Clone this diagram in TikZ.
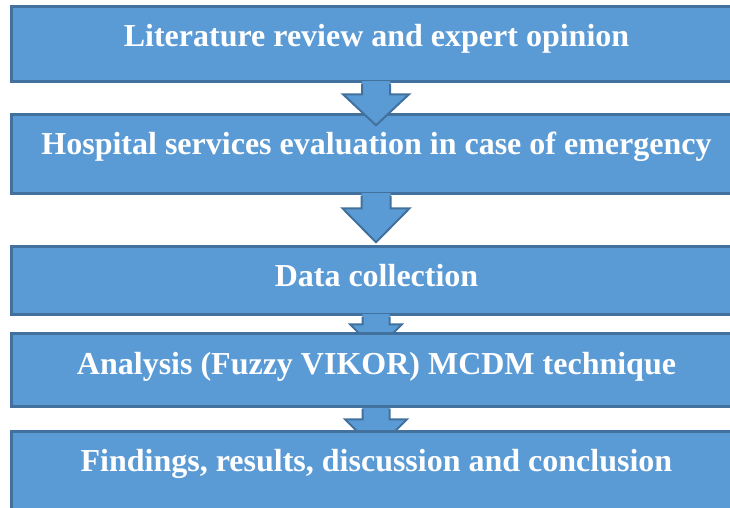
\documentclass[tikz,border=0pt]{standalone}
\usepackage{fontspec}
\setmainfont{Liberation Serif}
\usetikzlibrary{calc}
\definecolor{boxfill}{HTML}{5B9BD5}
\definecolor{boxline}{HTML}{41719C}
\pgfdeclarelayer{under}
\pgfsetlayers{under,main}
\newcommand\blockarr[5]{% #1 node, #2 shaft half width, #3 shaft length, #4 head half width, #5 head length
  \fill[boxfill] ($(#1.south)+(-#2,-2)$) -- ($(#1.south)+(-#2,#3)$) -- ($(#1.south)+(-#4,#3)$)
     -- ($(#1.south)+(0,#3+#5)$) -- ($(#1.south)+(#4,#3)$) -- ($(#1.south)+(#2,#3)$)
     -- ($(#1.south)+(#2,-2)$) -- cycle;
  \draw[arrowline] ($(#1.south)+(-#2,0.5)$) -- ($(#1.south)+(-#2,#3)$) -- ($(#1.south)+(-#4,#3)$)
     -- ($(#1.south)+(0,#3+#5)$) -- ($(#1.south)+(#4,#3)$) -- ($(#1.south)+(#2,#3)$)
     -- ($(#1.south)+(#2,0.5)$);}
\begin{document}
\begin{tikzpicture}[x=1pt,y=-1pt,
  stepbox/.style={draw=boxline,line width=2.6pt,fill=boxfill,minimum width=729.5pt,inner sep=0pt},
  lbl/.style={anchor=base,text=white,font=\fontsize{32}{36}\selectfont\bfseries,inner sep=0pt},
  arrowline/.style={draw=boxline,line width=2pt,line join=miter}]
\useasboundingbox (0,0) rectangle (730,508);
\clip (0,0) rectangle (730,508);
\begin{pgfonlayer}{under}
  \fill[white] (0,0) rectangle (730,508);
  \node[stepbox,minimum height=75.5pt] (b1) at (376,44) {};
  \node[stepbox,minimum height=79.5pt] (b2) at (376,154) {};
  \node[stepbox,minimum height=68.5pt] (b3) at (376,280.5) {};
\end{pgfonlayer}
\node[stepbox,minimum height=73.5pt] (b4) at (376,370) {};
\node[stepbox,minimum height=107.5pt] (b5) at (376,485) {};
\blockarr{b1}{14}{11.25}{33}{31}
\blockarr{b2}{14.5}{13.25}{33.5}{34}
\begin{pgfonlayer}{under}
  \blockarr{b3}{13.5}{8.25}{26}{26}
  \blockarr{b4}{13.5}{11.25}{31}{31}
\end{pgfonlayer}
\node[lbl] (t1) at (376.5,47) {Literature review and expert opinion};
\node[lbl] (t2) at (376.5,154) {Hospital services evaluation in case of emergency};
\node[lbl] (t3) at (376.5,286) {Data collection};
\node[lbl] (t4) at (376.5,374) {Analysis (Fuzzy VIKOR) MCDM technique};
\node[lbl] (t5) at (376.5,471) {Findings, results, discussion and conclusion};
\end{tikzpicture}
\end{document}
